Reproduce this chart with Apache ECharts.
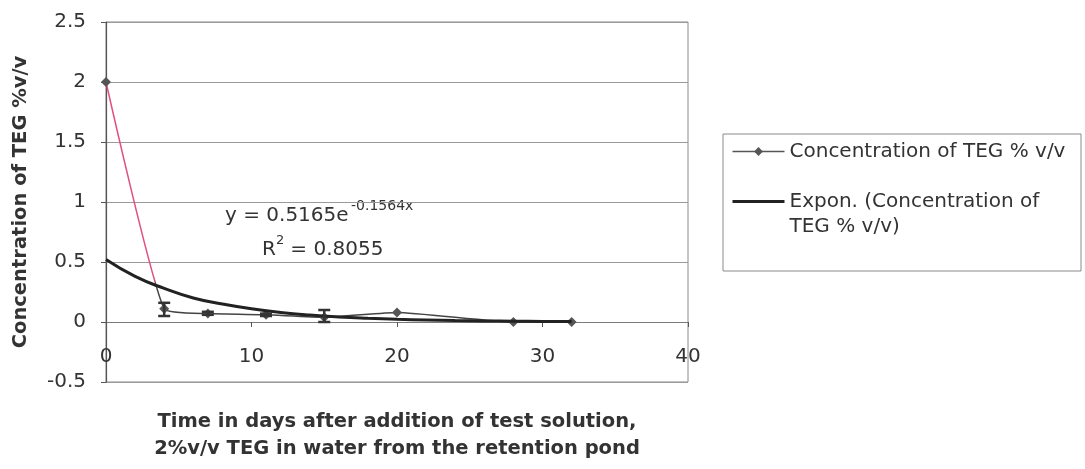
<!DOCTYPE html>
<html>
<head>
<meta charset="utf-8">
<script src="https://cdn.jsdelivr.net/npm/echarts@6/dist/echarts.min.js"></script>
<style>
html,body{margin:0;padding:0;background:#fff;}
#chart{width:1085px;height:469px;}
</style>
</head>
<body>
<div id="chart"></div>
<script>
// ---- data ----
const xDays = [0, 4, 7, 11, 15, 20, 28, 32];
const tegConc = [2.0, 0.11, 0.07, 0.06, 0.04, 0.08, 0.0, 0.0];
const errX = [4, 7, 11, 15];
const errLow = [0.05, 0.06, 0.05, 0.0];
const errHigh = [0.16, 0.085, 0.07, 0.10];
const trendX = [0, 2, 4, 6, 8, 10, 12, 14, 16, 18, 20, 22, 24, 26, 28, 30, 32];
const trendY = [0.52, 0.38, 0.28, 0.20, 0.15, 0.11, 0.08, 0.058, 0.042, 0.031, 0.023, 0.017, 0.012, 0.009, 0.0065, 0.0047, 0.0035];
const yTicks = { min: -0.5, max: 2.5, interval: 0.5 };
const xTicks = { min: 0, max: 40, interval: 10 };
const seriesName = 'Concentration of TEG % v/v';
const trendName = 'Expon. (Concentration of TEG % v/v)';
const xTitle = 'Time in days after addition of test solution,\n2%v/v TEG in water from the retention pond';
const yTitle = 'Concentration of TEG %v/v';

const FONT = 'DejaVu Sans';
const TXT = '#333';
const chart = echarts.init(document.getElementById('chart'));

const option = {
  backgroundColor: '#fff',
  animation: false,
  grid: { left: 106, right: 397, top: 22, bottom: 87, show: true, borderColor: '#8a8a8a', borderWidth: 1, outerBoundsMode: 'none', containLabel: false },
  xAxis: {
    type: 'value', min: xTicks.min, max: xTicks.max, interval: xTicks.interval,
    axisLine: { onZero: true, lineStyle: { color: '#7a7a7a', width: 1 } },
    axisTick: { show: true, length: 5, lineStyle: { color: '#555' } },
    splitLine: { show: false },
    axisLabel: { color: TXT, fontFamily: FONT, fontSize: 20, margin: -35 },
    name: xTitle, nameLocation: 'middle', nameGap: 26, nameMoveOverlap: false,
    nameTextStyle: { color: TXT, fontFamily: FONT, fontSize: 19.5, fontWeight: 'bold', lineHeight: 27 }
  },
  yAxis: {
    type: 'value', min: yTicks.min, max: yTicks.max, interval: yTicks.interval,
    axisLine: { show: true, onZero: false, lineStyle: { color: '#555', width: 1.2 } },
    axisTick: { show: true, length: 5, lineStyle: { color: '#555' } },
    splitLine: { show: true, lineStyle: { color: '#9a9a9a', width: 1 } },
    axisLabel: { color: TXT, fontFamily: FONT, fontSize: 20, margin: 20 },
    name: yTitle, nameLocation: 'middle', nameGap: 75, nameMoveOverlap: false,
    nameTextStyle: { color: TXT, fontFamily: FONT, fontSize: 19.5, fontWeight: 'bold' }
  },
  legend: {
    orient: 'vertical', left: 731, top: 139, padding: 0, itemGap: 0,
    itemWidth: 52, itemHeight: 11,
    textStyle: { color: TXT, fontFamily: FONT, fontSize: 20, lineHeight: 25 },
    data: [
      { name: seriesName, lineStyle: { color: '#555', width: 1.5 }, itemStyle: { color: '#555' } },
      { name: trendName, lineStyle: { color: '#222', width: 3 }, itemStyle: { opacity: 0 } }
    ],
    formatter: function (n) {
      return n === trendName ? ' \nExpon. (Concentration of\nTEG % v/v)' : n;
    },
    selectedMode: false
  },
  graphic: [
    { type: 'rect', shape: { x: 723, y: 134, width: 358, height: 137 }, style: { fill: 'none', stroke: '#8a8a8a', lineWidth: 1 }, silent: true },
    { type: 'text', style: { x: 225, y: 216, text: 'y = 0.5165e', fill: TXT, font: '20px "DejaVu Sans"', textAlign: 'left', textVerticalAlign: 'middle' } },
    { type: 'text', style: { x: 351, y: 206, text: '-0.1564x', fill: TXT, font: '14px "DejaVu Sans"', textAlign: 'left', textVerticalAlign: 'middle' } },
    { type: 'text', style: { x: 262, y: 250, text: 'R', fill: TXT, font: '20px "DejaVu Sans"', textAlign: 'left', textVerticalAlign: 'middle' } },
    { type: 'text', style: { x: 276, y: 241, text: '2', fill: TXT, font: '13px "DejaVu Sans"', textAlign: 'left', textVerticalAlign: 'middle' } },
    { type: 'text', style: { x: 284, y: 250, text: ' = 0.8055', fill: TXT, font: '20px "DejaVu Sans"', textAlign: 'left', textVerticalAlign: 'middle' } }
  ],
  series: [
    {
      name: seriesName, type: 'line', z: 3,
      data: xDays.map((x, i) => [x, tegConc[i]]),
      smooth: 0.15,
      symbol: 'diamond', symbolSize: 10, showAllSymbol: true,
      itemStyle: { color: '#555' },
      lineStyle: {
        width: 1.5,
        color: new echarts.graphic.LinearGradient(0, 0, 1, 0, [
          { offset: 0, color: '#e0507c' },
          { offset: 0.108, color: '#e0507c' },
          { offset: 0.112, color: '#444' },
          { offset: 1, color: '#444' }
        ])
      },
      emphasis: { disabled: true }
    },
    {
      name: trendName, type: 'line', z: 4,
      data: trendX.map((x, i) => [x, trendY[i]]),
      smooth: true, symbol: 'none',
      lineStyle: { color: '#222', width: 3 },
      emphasis: { disabled: true }
    },
    {
      name: 'errors', type: 'custom', z: 5,
      data: errX.map((x, i) => [x, errLow[i], errHigh[i]]),
      encode: { x: 0, y: [1, 2] },
      renderItem: function (params, api) {
        const lo = api.coord([api.value(0), api.value(1)]);
        const hi = api.coord([api.value(0), api.value(2)]);
        const w = 6;
        const st = { stroke: '#333', lineWidth: 2.5 };
        return {
          type: 'group',
          children: [
            { type: 'line', shape: { x1: lo[0], y1: lo[1], x2: hi[0], y2: hi[1] }, style: st },
            { type: 'line', shape: { x1: lo[0] - w, y1: lo[1], x2: lo[0] + w, y2: lo[1] }, style: st },
            { type: 'line', shape: { x1: hi[0] - w, y1: hi[1], x2: hi[0] + w, y2: hi[1] }, style: st }
          ]
        };
      }
    }
  ]
};
chart.setOption(option);
</script>
</body>
</html>
